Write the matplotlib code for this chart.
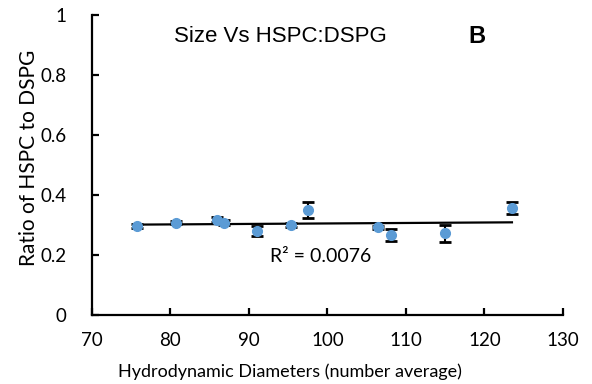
import numpy as np
import matplotlib
matplotlib.use("Agg")
import matplotlib.pyplot as plt

# hydrodynamic diameter (number average) vs HSPC:DSPG ratio
diameter = [75.8, 80.7, 85.9, 86.9, 91.0, 95.4, 97.5, 106.5, 108.1, 115.0, 123.5]
ratio = [0.296, 0.308, 0.318, 0.308, 0.281, 0.300, 0.350, 0.292, 0.267, 0.272, 0.356]
ratio_err = [0.006, 0.005, 0.008, 0.008, 0.017, 0.006, 0.028, 0.005, 0.020, 0.029, 0.020]

xticks = [70, 80, 90, 100, 110, 120, 130]
yticks = [0, 0.2, 0.4, 0.6, 0.8, 1]
ytick_labels = ['0', '0.2', '0.4', '0.6', '0.8', '1']

fig = plt.figure(figsize=(5.92, 3.84), dpi=100)
ax = fig.add_axes([0.155, 0.18, 0.796, 0.781])

ax.errorbar(diameter, ratio, yerr=ratio_err, fmt='none', ecolor='black',
            elinewidth=1.5, capsize=4, capthick=2, zorder=2)
ax.plot(diameter, ratio, 'o', color='#5B9BD5', markersize=7, zorder=3)

# linear trendline
slope, intercept = np.polyfit(diameter, ratio, 1)
xs = np.array([min(diameter), max(diameter)])
ax.plot(xs, slope * xs + intercept, color='black', linewidth=1.6, zorder=1)

ax.text(0.378, 0.193, 'R\u00b2 = 0.0076', transform=ax.transAxes,
        fontsize=14, family=['Lato', 'DejaVu Sans'], ha='left', va='center')

ax.set_xlim(70, 130)
ax.set_ylim(0, 1)
ax.set_xticks(xticks)
ax.set_yticks(yticks)
ax.set_yticklabels(ytick_labels)

for s in ['top', 'right']:
    ax.spines[s].set_visible(False)
for s in ['left', 'bottom']:
    ax.spines[s].set_linewidth(1.6)

ax.tick_params(direction='in', length=5, width=1.6, labelsize=13.5)
ax.tick_params(axis='y', pad=18)
ax.tick_params(axis='x', pad=12)
for lbl in ax.get_xticklabels() + ax.get_yticklabels():
    lbl.set_family('Lato')

ax.set_xlabel('Hydrodynamic Diameters (number average)', fontsize=13,
              family='Lato')
ax.xaxis.set_label_coords(0.42, -0.163)
ax.set_ylabel('Ratio of HSPC to DSPG', fontsize=15, family='Lato')
ax.yaxis.set_label_coords(-0.112, 0.523)

fig.text(0.473, 0.904, 'Size Vs HSPC:DSPG', fontsize=16,
         family='Liberation Sans', ha='center', va='center')
fig.text(0.806, 0.904, 'B', fontsize=17, fontweight='bold',
         family='Liberation Sans', ha='center', va='center')

fig.savefig('out.png', dpi=100)
